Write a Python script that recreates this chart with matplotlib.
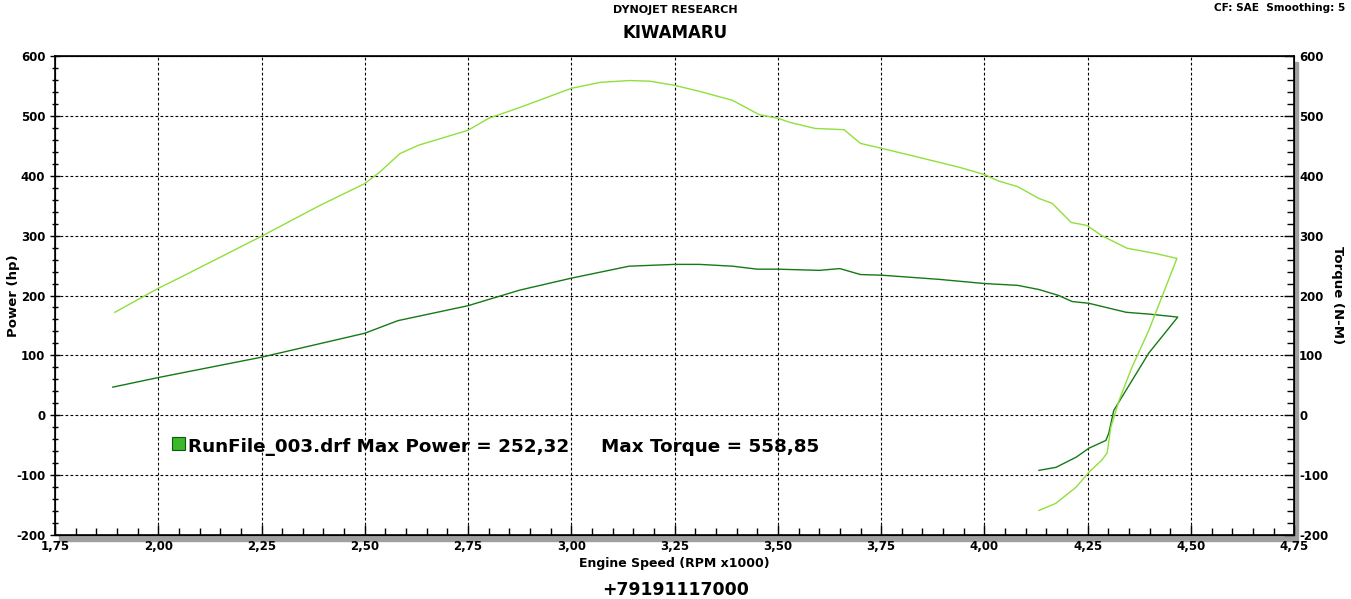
import numpy as np
import matplotlib
matplotlib.use('Agg')
import matplotlib.pyplot as plt
from matplotlib.ticker import MultipleLocator, FuncFormatter
from matplotlib.patches import Rectangle

# engine speed (RPM x1000) and power (hp)
rpm_power = [1.89, 2.00, 2.25, 2.50, 2.58, 2.75, 2.875, 3.00, 3.14, 3.25, 3.31, 3.39,
             3.45, 3.50, 3.60, 3.65, 3.70, 3.75, 3.89, 4.00, 4.08, 4.132, 4.18, 4.212,
             4.253, 4.343, 4.398, 4.468,
             4.398, 4.343, 4.313, 4.301, 4.294, 4.253, 4.222, 4.173, 4.132]
power = [47, 63, 97, 137, 158, 183, 209, 229, 249, 252, 252, 249,
         244, 244, 242, 245, 235, 234, 227, 220, 217, 210, 200, 190,
         187, 172, 169, 164,
         104, 42, 8, -30, -42, -55, -70, -87, -92]

# engine speed and torque (N-M)
rpm_torque = [1.895, 2.00, 2.05, 2.25, 2.39, 2.50, 2.536, 2.585, 2.63, 2.75, 2.80, 2.875,
              3.00, 3.07, 3.14, 3.19, 3.25, 3.31, 3.39, 3.455, 3.50, 3.53, 3.59, 3.66,
              3.70, 3.75, 3.84, 3.94, 4.00, 4.035, 4.08, 4.132, 4.164, 4.21, 4.248,
              4.284, 4.345, 4.415, 4.466,
              4.398, 4.357, 4.326, 4.306, 4.297, 4.284, 4.253, 4.222, 4.173, 4.132]
torque = [172, 212, 229, 299, 350, 387, 406, 437, 451, 476, 496, 514,
          546, 556, 559, 558, 551, 541, 526, 502, 496, 489, 479, 477,
          454, 446, 431, 414, 402, 391, 382, 362, 354, 322, 317,
          300, 279, 270, 262,
          142, 80, 25, -20, -63, -75, -95, -120, -147, -159]

run_name = 'RunFile_003.drf'
max_power = '252,32'
max_torque = '558,85'

plt.rcParams['font.family'] = ['DejaVu Sans']
plt.rcParams['axes.unicode_minus'] = False

fig = plt.figure(figsize=(13.51, 5.99), dpi=100)
ax = fig.add_axes([0.0407, 0.1068, 0.9173, 0.7997])

# gray shadow along bottom and right of the frame
sh = Rectangle((0.0407 + 0.003, 0.1068 - 0.010), 0.9173, 0.7997,
               transform=fig.transFigure, color='#a0a0a0', zorder=-1)
fig.patches.append(sh)
ax.set_facecolor('white')

ax.plot(rpm_power, power, color='#157a15', lw=1.0)
ax.plot(rpm_torque, torque, color='#8fe03a', lw=1.0)

ax.set_xlim(1.75, 4.75)
ax.set_ylim(-200, 600)
ax.xaxis.set_major_locator(MultipleLocator(0.25))
ax.xaxis.set_minor_locator(MultipleLocator(0.05))
ax.yaxis.set_major_locator(MultipleLocator(100))
ax.yaxis.set_minor_locator(MultipleLocator(20))
ax.xaxis.set_major_formatter(FuncFormatter(lambda v, p: ('%.2f' % v).replace('.', ',')))
ax.grid(True, which='major', color='black', ls=(0, (2.5, 2)), lw=0.8)
ax.tick_params(axis='both', which='both', direction='inout', labelsize=8.5, width=1.0)
ax.tick_params(axis='x', which='both', direction='in')
ax.tick_params(which='major', length=7)
ax.tick_params(which='minor', length=5)
for lab in ax.get_xticklabels() + ax.get_yticklabels():
    lab.set_fontweight('bold')
for s in ax.spines.values():
    s.set_linewidth(1.2)
ax.set_ylabel('Power (hp)', fontsize=9.5, fontweight='bold')
ax.yaxis.set_label_coords(-0.028, 0.5)
ax.set_xlabel('Engine Speed (RPM x1000)', fontsize=9, fontweight='bold', labelpad=3)

ax2 = ax.twinx()
ax2.set_ylim(-200, 600)
ax2.yaxis.set_major_locator(MultipleLocator(100))
ax2.yaxis.set_minor_locator(MultipleLocator(20))
ax2.tick_params(axis='y', which='both', direction='in', labelsize=8.5, width=1.0)
ax2.tick_params(which='major', length=7)
ax2.tick_params(which='minor', length=5)
for lab in ax2.get_yticklabels():
    lab.set_fontweight('bold')
ax2.set_ylabel('Torque (N-M)', fontsize=9.5, fontweight='bold', rotation=270, va='center')
ax2.yaxis.set_label_coords(1.035, 0.5)

# legend line
ax.add_patch(Rectangle((0.0945, 0.178), 0.0105, 0.026, transform=ax.transAxes,
                       facecolor='#3cb82a', edgecolor='#0d5a0d', lw=0.8, zorder=5))
ax.text(0.107, 0.184, run_name + ' Max Power = ' + max_power + '     Max Torque = ' + max_torque,
        transform=ax.transAxes, fontsize=13.2, fontweight='bold', va='center', ha='left', zorder=5)

fig.text(0.4997, 0.984, 'DYNOJET RESEARCH', ha='center', va='center', fontsize=8, fontweight='bold')
fig.text(0.4997, 0.945, 'KIWAMARU', ha='center', va='center', fontsize=12, fontweight='bold')
fig.text(0.996, 0.986, 'CF: SAE  Smoothing: 5', ha='right', va='center', fontsize=7.6, fontweight='bold')
fig.text(0.4997, 0.015, '+79191117000', ha='center', va='center', fontsize=12.4, fontweight='bold')

fig.savefig('out.png', dpi=100)
